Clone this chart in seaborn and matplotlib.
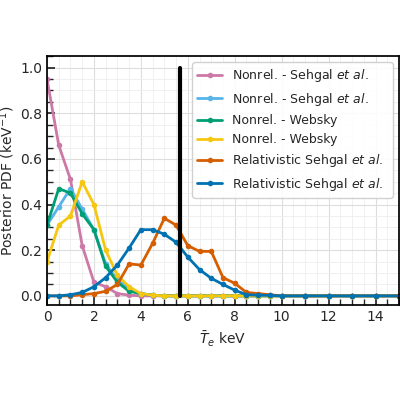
import matplotlib
matplotlib.use("Agg")
import matplotlib.pyplot as plt
import seaborn as sns
import numpy as np
import pandas as pd

sns.set_theme(style="ticks")
plt.rcParams['font.family'] = ['DejaVu Sans']
plt.rcParams['font.size'] = 10

x = [0,0.5,1,1.5,2,2.5,3,3.5,4,4.5,5,5.5,6,6.5,7,7.5,8,8.5,9,9.5,10,11,12,13,14,15]
pink   = [0.95,0.66,0.51,0.22,0.06,0.04,0.01,0.003,0,0,0,0,0,0,0,0,0,0,0,0,0,0,0,0,0,0]
lblue  = [0.31,0.39,0.47,0.38,0.29,0.14,0.07,0.03,0.01,0.003,0,0,0,0,0,0,0,0,0,0,0,0,0,0,0,0]
green  = [0.31,0.47,0.45,0.36,0.29,0.13,0.06,0.02,0.01,0.003,0,0,0,0,0,0,0,0,0,0,0,0,0,0,0,0]
yellow = [0.15,0.31,0.35,0.50,0.40,0.20,0.09,0.04,0.01,0.003,0,0,0,0,0,0,0,0,0,0,0,0,0,0,0,0]
orange = [0,0,0,0.005,0.01,0.02,0.05,0.14,0.135,0.23,0.34,0.31,0.22,0.195,0.195,0.08,0.055,0.015,0.01,0.005,0,0,0,0,0,0]
blue   = [0,0,0.005,0.015,0.04,0.08,0.135,0.21,0.29,0.29,0.27,0.235,0.17,0.115,0.077,0.05,0.025,0.005,0.003,0.002,0,0,0,0,0,0]

series = [
    ("Nonrel. - Sehgal $et\\ al.$", pink, "#cc79a7"),
    ("Nonrel. - Sehgal $et\\ al.$ ", lblue, "#56b4e9"),
    ("Nonrel. - Websky", green, "#009e73"),
    ("Nonrel. - Websky ", yellow, "#f5c710"),
    ("Relativistic Sehgal $et\\ al.$", orange, "#d55e00"),
    ("Relativistic Sehgal $et\\ al.$ ", blue, "#0072b2"),
]
vline_x = 5.65

fig = plt.figure(figsize=(4, 4), dpi=100)
ax = fig.add_axes([0.1175, 0.2375, 0.88, 0.622])
for name, vals, c in series:
    df = pd.DataFrame({"x": x, "y": vals})
    sns.lineplot(data=df, x="x", y="y", ax=ax, color=c, marker="o", markersize=4,
                 markeredgewidth=0, lw=2, label=name)
ax.plot([vline_x, vline_x], [0, 1.0], color="black", lw=3)
ax.set_xlim(0, 15)
ax.set_ylim(-0.04, 1.05)
ax.set_xticks(range(0, 15, 2))
ax.set_yticks([0, 0.2, 0.4, 0.6, 0.8, 1.0])
ax.minorticks_on()
ax.grid(which="major", color="#dddddd", lw=0.8)
ax.grid(which="minor", color="#eeeeee", lw=0.6)
ax.tick_params(which="both", direction="in", top=False, right=False, labelsize=10)
ax.set_xlabel(r"$\bar{T}_e$ keV", fontsize=10)
ax.set_ylabel(r"Posterior PDF (keV$^{-1}$)", fontsize=10, labelpad=2)
for s in ax.spines.values():
    s.set_color("black")
ax.legend(loc="upper right", fontsize=9, framealpha=0.9)
fig.savefig("out.png", dpi=100)
